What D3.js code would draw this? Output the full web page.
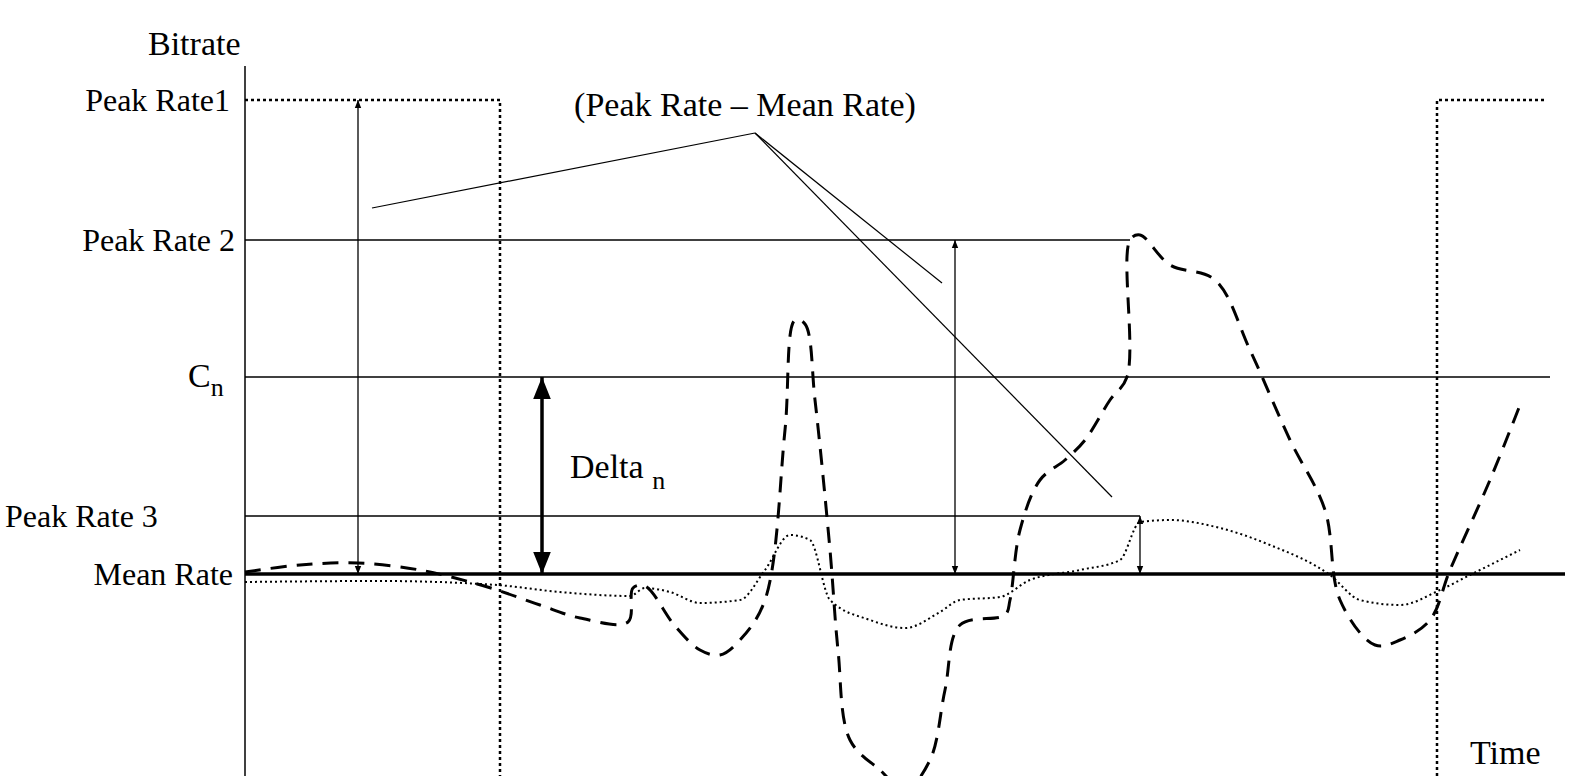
<!DOCTYPE html>
<html><head><meta charset="utf-8">
<script src="https://cdn.jsdelivr.net/npm/d3@7"></script>
<style>body{margin:0;background:#fff}svg{display:block}text{font-family:"Liberation Serif",serif;fill:#000}</style>
</head><body>
<svg width="1579" height="776"></svg>
<script>
// time in units from the bitrate axis, bitrate in units above the bottom
const levels = {peak1: 676, peak2: 536, cn: 399, peak3: 260, mean: 202};
const levelLabels = [
  {name: "Peak Rate1", v: 676, anchor: "end", x: -15},
  {name: "Peak Rate 2", v: 536, anchor: "end", x: -10},
  {name: "Peak Rate 3", v: 260, anchor: "start", x: -240},
  {name: "Mean Rate", v: 202, anchor: "end", x: -12}
];
const dashed = [[0,204],[55,211],[113,213],[175,206],[225,194],[252,186],[295,171],[335,158],[383,154],[388,188],[400,190],[430,150],[455,126],[475,121],[495,136],[520,176],[540,346],[550,456],[560,452],[570,376],[585,226],[593,126],[605,36],[635,6],[660,-14],[685,16],[700,86],[715,151],[760,161],[765,176],[775,246],[795,296],[820,316],[840,336],[865,376],[882,399],[885,536],[895,541],[925,511],[970,496],[1005,426],[1045,336],[1080,266],[1095,176],[1130,131],[1155,136],[1185,156],[1205,206],[1245,296],[1275,371]];
const dotted = [[0,194],[135,195],[252,191],[315,184],[385,180],[400,188],[425,184],[455,173],[495,176],[520,206],[545,241],[565,236],[585,176],[625,156],[660,148],[695,164],[715,176],[755,179],[785,196],[835,206],[875,216],[895,254],[925,256],[975,248],[1025,231],[1085,201],[1115,176],[1155,171],[1195,186],[1225,201],[1255,216],[1275,226]];
const arrows = [[113,676,202,1],[297,399,202,3],[710,536,202,1],[895,260,202,1]];

const svg = d3.select("svg");
const x = d3.scaleLinear().domain([0, 1334]).range([245, 1579]);
const y = d3.scaleLinear().domain([0, 776]).range([776, 0]);

svg.append("defs").selectAll("marker").data([1,3]).join("marker")
  .attr("id", d => "ah" + d).attr("viewBox", "0 0 10 10").attr("refX", 10).attr("refY", 5)
  .attr("markerWidth", d => d == 1 ? 8 : 22).attr("markerHeight", d => d == 1 ? 12 : 22)
  .attr("markerUnits", "userSpaceOnUse").attr("orient", "auto-start-reverse")
  .append("path").attr("d", "M0,1L10,5L0,9Z").attr("fill", "#000");

// axis
svg.append("line").attr("x1", x(0)).attr("x2", x(0)).attr("y1", y(710)).attr("y2", y(0)).attr("stroke", "#000").attr("stroke-width", 1.5);

const hl = (v, x0, x1, w, dash) => svg.append("line").attr("x1", x(x0)).attr("x2", x(x1))
  .attr("y1", y(v)).attr("y2", y(v)).attr("stroke", "#000").attr("stroke-width", w).attr("stroke-dasharray", dash);
hl(levels.peak2, 0, 885, 1.3);
hl(levels.cn, 0, 1305, 1.3);
hl(levels.peak3, 0, 895, 1.3);
hl(levels.mean, 0, 1320, 3.5);

// peak rate 1 square wave (dotted)
const sq = d3.line().x(d => x(d[0])).y(d => y(d[1]));
svg.append("path").attr("d", sq([[0,676],[255,676],[255,0]])).attr("fill", "none").attr("stroke", "#000").attr("stroke-width", 2.5).attr("stroke-dasharray", "3,3");
svg.append("path").attr("d", sq([[1192,0],[1192,676],[1300,676]])).attr("fill", "none").attr("stroke", "#000").attr("stroke-width", 2.5).attr("stroke-dasharray", "3,3");

const curve = d3.line().x(d => x(d[0])).y(d => y(d[1])).curve(d3.curveMonotoneX);
svg.append("path").attr("d", d3.line().x(d => x(d[0])).y(d => y(d[1])).curve(d3.curveCatmullRom)(dashed)).attr("fill", "none").attr("stroke", "#000").attr("stroke-width", 3).attr("stroke-dasharray", "16,10");
svg.append("path").attr("d", curve(dotted)).attr("fill", "none").attr("stroke", "#000").attr("stroke-width", 2).attr("stroke-dasharray", "2,3");

// arrows
svg.selectAll(".arr").data(arrows).join("line").attr("class", "arr")
  .attr("x1", d => x(d[0])).attr("x2", d => x(d[0])).attr("y1", d => y(d[1])).attr("y2", d => y(d[2]))
  .attr("stroke", "#000").attr("stroke-width", d => d[3] == 1 ? 1.3 : 3.5)
  .attr("marker-start", d => "url(#ah" + d[3] + ")").attr("marker-end", d => "url(#ah" + d[3] + ")");

// annotation leader lines
const apex = [510, 643];
[[127,568],[697,493],[867,279]].forEach(p => {
  svg.append("line").attr("x1", x(apex[0])).attr("y1", y(apex[1])).attr("x2", x(p[0])).attr("y2", y(p[1])).attr("stroke", "#000").attr("stroke-width", 1.2);
});
svg.append("text").attr("x", 745).attr("y", 116).attr("text-anchor", "middle").attr("font-size", 34).text("(Peak Rate \u2013 Mean Rate)");

// labels
svg.append("text").attr("x", 148).attr("y", 55).attr("font-size", 34).text("Bitrate");
svg.selectAll(".lvl").data(levelLabels).join("text").attr("class", "lvl")
  .attr("x", d => x(0) + d.x).attr("y", d => y(d.v) + 11).attr("text-anchor", d => d.anchor).attr("font-size", 32).text(d => d.name);
const cn = svg.append("text").attr("x", 188).attr("y", y(levels.cn) + 10).attr("font-size", 34);
cn.append("tspan").text("C");
cn.append("tspan").attr("dy", 9).attr("font-size", 26).text("n");
const dl = svg.append("text").attr("x", 570).attr("y", 478).attr("font-size", 34);
dl.append("tspan").text("Delta ");
dl.append("tspan").attr("dy", 11).attr("font-size", 26).text("n");
svg.append("text").attr("x", 1470).attr("y", 764).attr("font-size", 34).text("Time");
</script>
</body></html>
